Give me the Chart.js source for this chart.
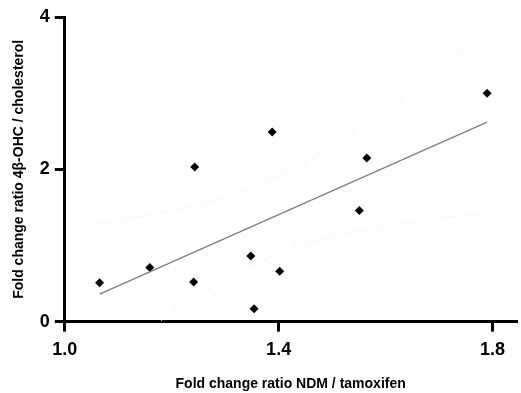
<!DOCTYPE html>
<html>
<head>
<meta charset="utf-8">
<script src="https://cdn.jsdelivr.net/npm/chart.js@4.4.0/dist/chart.umd.min.js"></script>
<style>
  body { margin: 0; background: #fff; }
  canvas { display: block; }
</style>
</head>
<body>
<canvas id="chart" width="521" height="393"></canvas>
<script>
// measured ratios, one point per patient
const ndmRatio = [1.065, 1.159, 1.243, 1.241, 1.348, 1.354, 1.402, 1.388, 1.565, 1.551, 1.790];
const ohcRatio = [0.51, 0.71, 2.03, 0.52, 0.86, 0.17, 0.66, 2.49, 2.15, 1.46, 3.00];

// linear fit, drawn between its two ends
const fitX = [1.065, 1.790];
const fitY = [0.36, 2.62];

// 95% confidence band
const bandUpperX = [1.065, 1.15, 1.25, 1.35, 1.45, 1.55, 1.65, 1.72, 1.79];
const bandUpperY = [1.30, 1.39, 1.535, 1.76, 2.10, 2.56, 3.06, 3.43, 3.81];
const bandLowerX = [1.18, 1.25, 1.35, 1.45, 1.55, 1.65, 1.72, 1.79];
const bandLowerY = [0.01, 0.34, 0.74, 1.02, 1.19, 1.31, 1.37, 1.43];

const xTicks = [1.0, 1.4, 1.8];
const yTicks = [0, 2, 4];

function toPoints(xs, ys) {
    return xs.map(function (x, i) { return {x: x, y: ys[i]}; });
}

const font = "'Liberation Sans', Arial, sans-serif";

function bandDataset(xs, ys) {
    return {
        data: toPoints(xs, ys),
        showLine: true,
        borderColor: "#e4e4e4",
        borderWidth: 1,
        borderDash: [1, 3],
        pointRadius: 0,
        tension: 0.4,
        fill: false,
    };
}

const chart = new Chart(document.getElementById("chart"), {
    type: "scatter",
    data: {
        datasets: [
            bandDataset(bandUpperX, bandUpperY),
            bandDataset(bandLowerX, bandLowerY),
            {
                data: toPoints(fitX, fitY),
                showLine: true,
                borderColor: "#808080",
                borderWidth: 1.5,
                pointRadius: 0,
            },
            {
                data: toPoints(ndmRatio, ohcRatio),
                pointStyle: "rectRot",
                pointRadius: 4.5,
                pointBorderWidth: 0,
                backgroundColor: "#000",
                borderColor: "#000",
            },
        ],
    },
    options: {
        responsive: false,
        animation: false,
        layout: {padding: {top: 17, right: 0, left: 9, bottom: 0}},
        plugins: {legend: {display: false}, tooltip: {enabled: false}},
        scales: {
            x: {
                type: "linear",
                min: 1.0,
                max: 1.845,
                afterBuildTicks: function (axis) {
                    axis.ticks = xTicks.map(function (v) { return {value: v}; });
                },
                ticks: {
                    callback: function (v) { return v.toFixed(1); },
                    color: "#000",
                    font: {family: font, size: 18, weight: "bold"},
                    padding: 8,
                },
                grid: {
                    drawOnChartArea: false,
                    color: "#000",
                    lineWidth: 3,
                    tickLength: 10,
                },
                border: {color: "#000", width: 3},
                title: {
                    display: true,
                    text: "Fold change ratio NDM / tamoxifen",
                    color: "#000",
                    font: {family: font, size: 14, weight: "bold"},
                    padding: {top: 7, bottom: 0},
                },
            },
            y: {
                type: "linear",
                min: 0,
                max: 4,
                afterBuildTicks: function (axis) {
                    axis.ticks = yTicks.map(function (v) { return {value: v}; });
                },
                ticks: {
                    color: "#000",
                    font: {family: font, size: 18, weight: "bold"},
                    padding: 5,
                },
                grid: {
                    drawOnChartArea: false,
                    color: "#000",
                    lineWidth: 3,
                    tickLength: 10,
                },
                border: {color: "#000", width: 3},
                title: {
                    display: true,
                    text: "Fold change ratio 4β-OHC / cholesterol",
                    color: "#000",
                    font: {family: font, size: 14, weight: "bold"},
                    padding: {top: 2, bottom: 7},
                },
            },
        },
    },
});
</script>
</body>
</html>
